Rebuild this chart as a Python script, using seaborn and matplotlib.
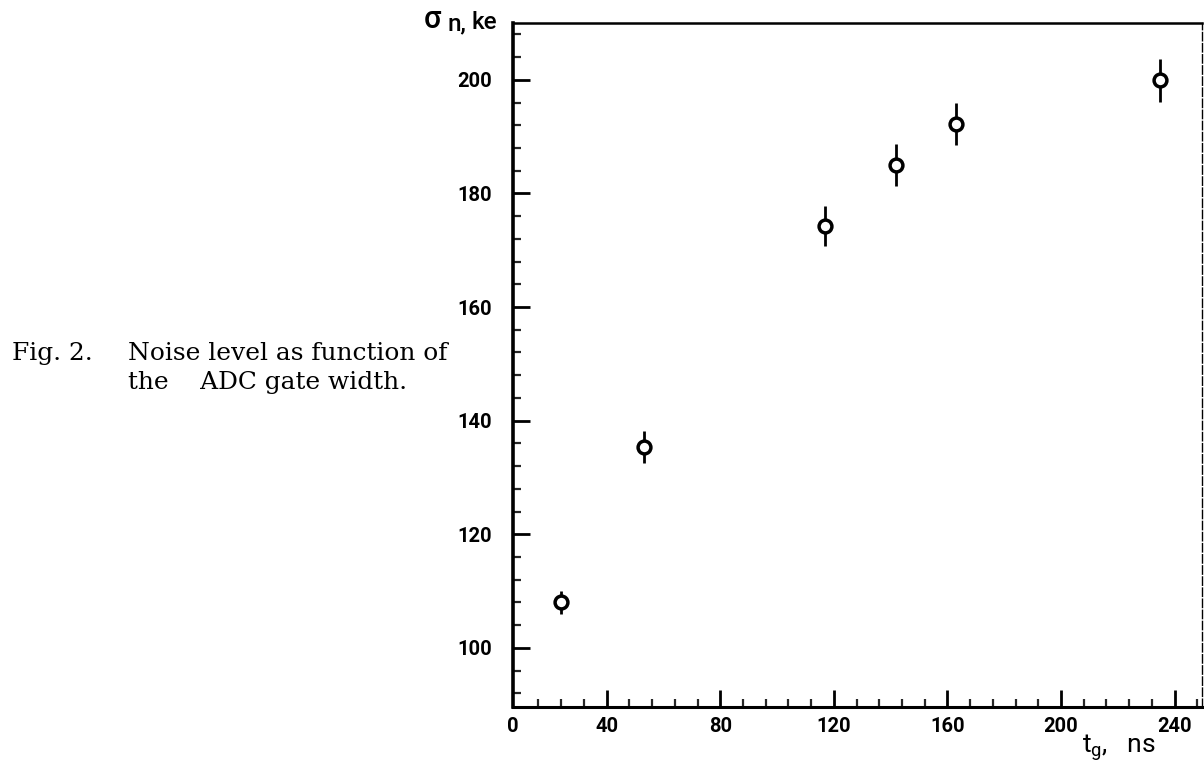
import matplotlib
matplotlib.use("Agg")
import matplotlib.pyplot as plt
from matplotlib.ticker import MultipleLocator, FixedLocator
import seaborn as sns
import pandas as pd

# Gate width (ns), noise level (ke) and its uncertainty
gate_width = [24, 53, 117, 142, 163, 235]
noise = [108.0, 135.3, 174.3, 185.0, 192.3, 199.9]
noise_err = [2.1, 2.8, 3.5, 3.7, 3.7, 3.8]

x_ticks = [40, 80, 120, 160, 200, 240]
y_ticks = [100, 120, 140, 160, 180, 200]

df = pd.DataFrame({"t_g": gate_width, "sigma": noise, "err": noise_err})

sns.set_style("ticks")
plt.rcParams["font.family"] = ["Roboto", "DejaVu Sans"]
plt.rcParams["mathtext.fontset"] = "custom"
plt.rcParams["mathtext.rm"] = "Roboto"
plt.rcParams["mathtext.it"] = "Roboto"

fig = plt.figure(figsize=(12.04, 7.66), dpi=100)
ax = fig.add_axes([0.426, 0.077, 0.572, 0.893])

ax.errorbar(df["t_g"], df["sigma"], yerr=df["err"], fmt="none",
            ecolor="black", elinewidth=2.0, capsize=0, zorder=2)
sns.scatterplot(data=df, x="t_g", y="sigma", ax=ax, marker="o", s=85,
                facecolor="white", edgecolor="black", linewidth=2.5,
                zorder=3, legend=False)

x_left, x_right = 7, 249.5
ax.set_xlim(x_left, x_right)
ax.set_ylim(89.6, 210)

# The axis origin is labelled "0" at the left edge
ax.xaxis.set_major_locator(FixedLocator([x_left] + x_ticks))
ax.set_xticklabels(["0"] + [str(v) for v in x_ticks])
ax.xaxis.set_minor_locator(FixedLocator([v for v in range(16, 249, 8)]))
ax.yaxis.set_major_locator(FixedLocator(y_ticks))
ax.yaxis.set_minor_locator(MultipleLocator(4))

ax.tick_params(axis="both", which="major", direction="in", length=12,
               width=2.0, labelsize=14.5, colors="black",
               bottom=True, left=True, top=False, right=False)
ax.tick_params(axis="both", which="minor", direction="in", length=6,
               width=1.6, bottom=True, left=True, top=False, right=False)
ax.tick_params(axis="x", which="major", pad=7)
ax.tick_params(axis="y", which="major", pad=15)
# first x tick sits on the spine: hide its mark, keep the label
ax.xaxis.get_major_ticks()[0].tick1line.set_visible(False)

for lab in ax.get_xticklabels() + ax.get_yticklabels():
    lab.set_fontweight("bold")

ax.spines["left"].set_linewidth(2.6)
ax.spines["bottom"].set_linewidth(2.2)
ax.spines["top"].set_linewidth(1.8)
ax.spines["right"].set_linewidth(1.0)
ax.spines["right"].set_linestyle((0, (6, 2)))
for s in ax.spines.values():
    s.set_color("black")
    s.set_visible(True)

ax.set_xlabel("")
ax.set_ylabel("")
# axis titles
fig.text(0.352, 0.974, "σ", fontsize=22, ha="left", va="center",
         color="black", fontweight="medium")
fig.text(0.372, 0.969, "n,", fontsize=17.5, ha="left", va="center",
         color="black", fontweight="medium")
fig.text(0.392, 0.971, "ke", fontsize=17.5, ha="left", va="center",
         color="black", fontweight="medium")
fig.text(0.899, 0.024, r"t$_{\rm g}$,   ns", fontsize=19, ha="left",
         va="center", color="black")

cap = dict(family="DejaVu Serif", fontsize=17.9, va="center", ha="left",
           color="black")
fig.text(0.010, 0.539, "Fig. 2.", **cap)
fig.text(0.106, 0.539, "Noise level as function of", **cap)
fig.text(0.106, 0.500, "the    ADC gate width.", **cap)

fig.savefig("out.png", dpi=100, facecolor="white")
